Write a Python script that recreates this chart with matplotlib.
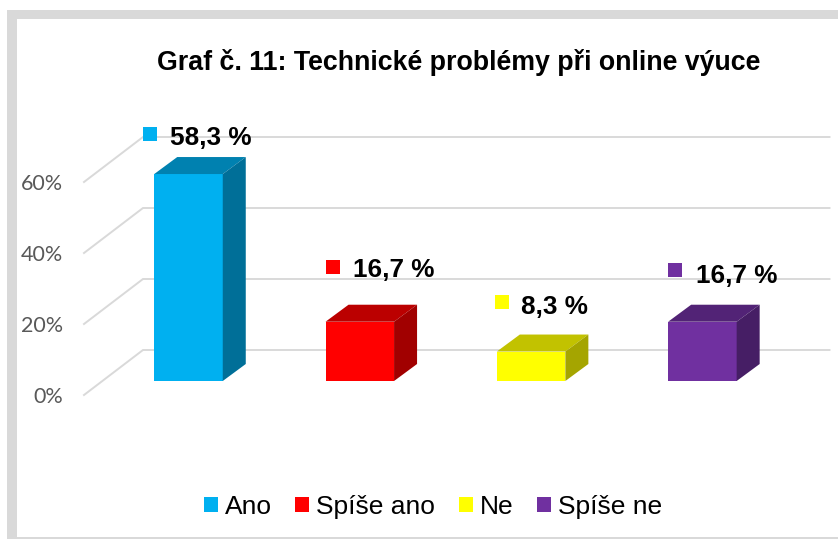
import matplotlib
matplotlib.use('Agg')
import matplotlib.pyplot as plt
from matplotlib.patches import Polygon, Rectangle, Patch

categories = ['Ano', 'Spíše ano', 'Ne', 'Spíše ne']
values = [58.3, 16.7, 8.3, 16.7]
value_labels = ['58,3 %', '16,7 %', '8,3 %', '16,7 %']
ticks = [0, 20, 40, 60]
tick_labels = ['0%', '20%', '40%', '60%']
title = 'Graf č. 11: Technické problémy při online výuce'

front_colors = ['#00B0F0', '#FF0000', '#FFFF00', '#7030A0']
top_colors = ['#0081B0', '#BB0000', '#C2C200', '#522376']
side_colors = ['#006F98', '#A10000', '#A5A500', '#461E65']

W, H = 838, 539
px_per_cat = 171.3
px_per_pct = 3.55
bar_w = 0.40
depth_x = 23 / px_per_cat
depth_y = 17 / px_per_pct

plt.rcParams['font.family'] = ['Liberation Sans', 'DejaVu Sans']

fig = plt.figure(figsize=(W / 100, H / 100), dpi=100)
ax = fig.add_axes([0, 0, 1, 1])
# data coordinates line up with the picture: category 0 at x=188.5px, 0% at y=381px
ax.set_xlim(-188.5 / px_per_cat, (W - 188.5) / px_per_cat)
ax.set_ylim((381 - H) / px_per_pct, 381 / px_per_pct)
ax.axis('off')

# outer frame
frame = '#D9D9D9'
ax.add_patch(Rectangle((7 / W, 0), 10 / W, 1 - 10 / H, transform=ax.transAxes, color=frame, lw=0))
ax.add_patch(Rectangle((7 / W, 1 - 19 / H), 1, 9 / H, transform=ax.transAxes, color=frame, lw=0))
ax.add_patch(Rectangle((7 / W, 0), 1, 2 / H, transform=ax.transAxes, color=frame, lw=0))

# gridlines, slanted floor part then the back wall
wall_x0, wall_x1, wall_x2 = -104.5 / px_per_cat, -45.5 / px_per_cat, 641 / px_per_cat
y_front, y_back = -14 / px_per_pct, 31 / px_per_pct
for t, lab in zip(ticks, tick_labels):
    ax.plot([wall_x0, wall_x1, wall_x2], [t + y_front, t + y_back, t + y_back],
            color='#D9D9D9', lw=1.4, solid_joinstyle='miter', zorder=1)
    ax.text(wall_x0 - 20.5 / px_per_cat, t + y_front - 0.6, lab, ha='right', va='center',
            fontsize=15.5, color='#595959', family=['Lato', 'DejaVu Sans'])

# bars
for i, v in enumerate(values):
    l, r = i - bar_w / 2, i + bar_w / 2
    ax.add_patch(Rectangle((l, 0), bar_w, v, color=front_colors[i], lw=0, zorder=3))
    ax.add_patch(Polygon([(l, v), (r, v), (r + depth_x, v + depth_y), (l + depth_x, v + depth_y)],
                         color=top_colors[i], lw=0, zorder=3))
    ax.add_patch(Polygon([(r, 0), (r + depth_x, depth_y), (r + depth_x, v + depth_y), (r, v)],
                         color=side_colors[i], lw=0, zorder=3))

# data labels with little square keys
key_x = [-0.225, -0.156, -0.17, -0.16]
key_y = [11.3, 15.4, 13.95, 14.6]
txt_x = [-0.108, -0.04, -0.059, -0.037]
txt_y = [10.1, 14.5, 12.5, 12.8]
for i, v in enumerate(values):
    ax.plot(i + key_x[i], v + key_y[i], 's', ms=10, mew=0, color=front_colors[i], zorder=4)
    ax.text(i + txt_x[i], v + txt_y[i], value_labels[i], ha='left', va='center',
            fontsize=18.8, fontweight='bold', color='black', zorder=4)

ax.text(459 / W, 1 - 63 / H, title, transform=ax.transAxes, ha='center', va='center',
        fontsize=19.3, fontweight='bold', color='black')

handles = [Patch(color=c, lw=0) for c in front_colors]
ax.legend(handles, categories, loc='center', bbox_to_anchor=(433 / W, 1 - 507 / H), ncol=4,
          frameon=False, fontsize=19, handlelength=0.53, handleheight=0.53,
          handletextpad=0.26, columnspacing=0.9, labelcolor='black')

fig.savefig('out.png', dpi=100)
